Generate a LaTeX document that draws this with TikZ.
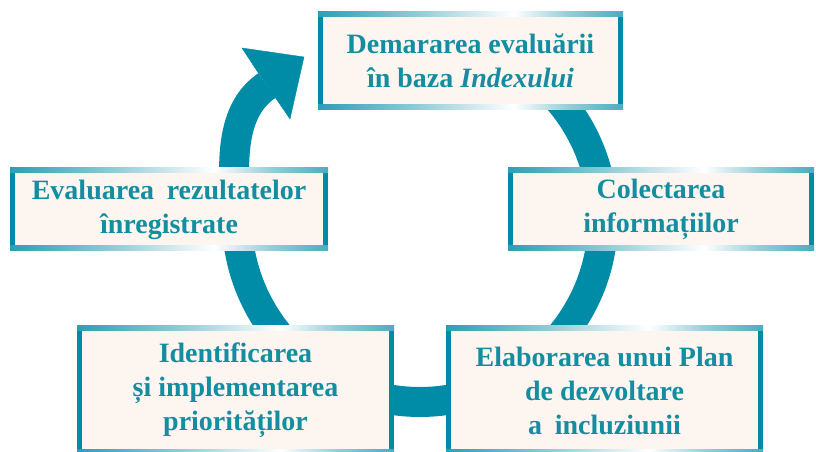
\documentclass[tikz,border=0pt]{standalone}
\usepackage{fontspec}
\setmainfont{Liberation Serif}
\definecolor{ringc}{RGB}{0,140,166}
\definecolor{txtc}{RGB}{18,142,160}
\definecolor{creamc}{RGB}{253,245,240}
\definecolor{lightc}{RGB}{150,205,216}
\pgfdeclarehorizontalshading{edgeshade}{100bp}{color(0bp)=(ringc); color(18bp)=(ringc); color(42bp)=(lightc); color(57bp)=(white); color(66bp)=(lightc); color(84bp)=(ringc); color(100bp)=(ringc)}
\newcommand\boxedges[1]{%
  \shade[shading=edgeshade] ([shift={(-2.5,2.5)}]#1.north west) rectangle ([shift={(2.5,-2.5)}]#1.north east);
  \shade[shading=edgeshade] ([shift={(-2.5,2.5)}]#1.south west) rectangle ([shift={(2.5,-2.5)}]#1.south east);}
\begin{document}
\begin{tikzpicture}[x=1pt,y=1pt,
  stagebox/.style={draw=ringc, line width=5pt, fill=creamc, inner sep=0pt, outer sep=0pt, align=center, text=txtc, font=\fontsize{28}{34}\selectfont\bfseries},
  ringline/.style={draw=ringc, line width=30pt}]
\useasboundingbox (0,0) rectangle (816,452);
% ring with arrow
\coordinate (ringstart) at (537.6,373.2);
\coordinate (shaftend) at (267,366.5);
\coordinate (tip) at (304,395);
\draw[ringline] (ringstart) arc[start angle=50,end angle=-180,radius=183] .. controls (230,300) and (234,344) .. (shaftend);
\filldraw[ringc, line width=0.4pt] (257,381) -- (242,404) -- (tip) -- (290,333) -- (277,352) -- cycle;
% boxes
\node[stagebox, minimum width=300pt, minimum height=93pt] (start) at (470.5,391) {Demararea evaluării\\în baza \textit{Indexului}};
\node[stagebox, minimum width=313pt, minimum height=78pt] (eval) at (169,242.5) {Evaluarea\hspace{0.2em} rezultatelor\\înregistrate};
\node[stagebox, minimum width=301pt, minimum height=78pt] (collect) at (661,242.5) {Colectarea\\informațiilor};
\node[stagebox, minimum width=312pt, minimum height=124pt] (prior) at (235.5,61.5) {Identificarea\\și implementarea\\priorităților};
\node[stagebox, minimum width=312pt, minimum height=124pt] (plan) at (604.5,61.5) {Elaborarea unui Plan\\de dezvoltare\\a\hspace{0.2em} incluziunii};
\boxedges{start}
\boxedges{eval}
\boxedges{collect}
\boxedges{prior}
\boxedges{plan}
\end{tikzpicture}
\end{document}
